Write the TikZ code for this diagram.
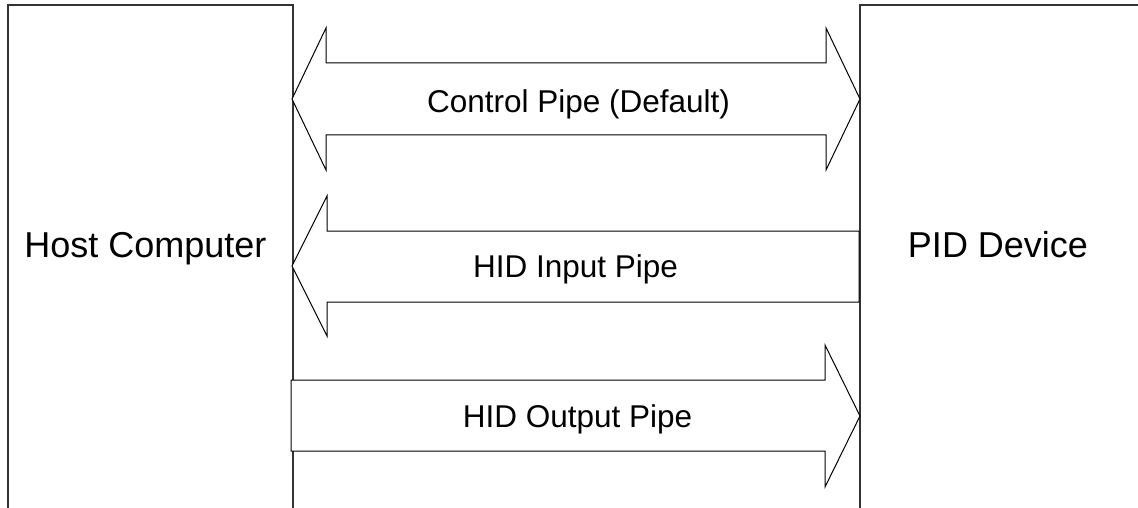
\documentclass[tikz,border=0pt]{standalone}
\usepackage{fontspec}
\setmainfont{Liberation Sans}
\begin{document}
\begin{tikzpicture}[x=1pt,y=-1pt,
  boxline/.style={line width=1.1pt, draw=black!80},
  pipe/.style={line width=1pt, draw=black, fill=white, line join=miter},
  bigtext/.style={font=\fontsize{36}{40}\selectfont, inner sep=0pt, anchor=base},
  pipetext/.style={font=\fontsize{31.5}{36}\selectfont, inner sep=0pt, anchor=base}]
\useasboundingbox (0,0) rectangle (1138,508);
\clip (0,0) rectangle (1138,508);
% boxes
\draw[boxline] (8,520) -- (8,5) -- (293,5) -- (293,520);
\draw[boxline] (860,520) -- (860,5) -- (1150,5);
% control pipe
\draw[pipe] (292,99) -- (326,28) -- (326,63) -- (826,63) -- (826,28) -- (860,99)
  -- (826,170) -- (826,135) -- (326,135) -- (326,170) -- cycle;
% input pipe
\draw[pipe] (292,266) -- (327,196) -- (327,231) -- (859,231) -- (859,302)
  -- (327,302) -- (327,336) -- cycle;
% output pipe
\draw[pipe] (291,380) -- (825,380) -- (825,345) -- (860,416) -- (825,487)
  -- (825,451) -- (291,451) -- cycle;
% labels
\node[bigtext] (host) at (145.5,257) {Host Computer};
\node[bigtext] (pid) at (998,257) {PID Device};
\node[pipetext] (ctrl) at (578.5,113) {Control Pipe (Default)};
\node[pipetext] (hin) at (575.5,277) {HID Input Pipe};
\node[pipetext] (hout) at (577.5,427) {HID Output Pipe};
\end{tikzpicture}
\end{document}
